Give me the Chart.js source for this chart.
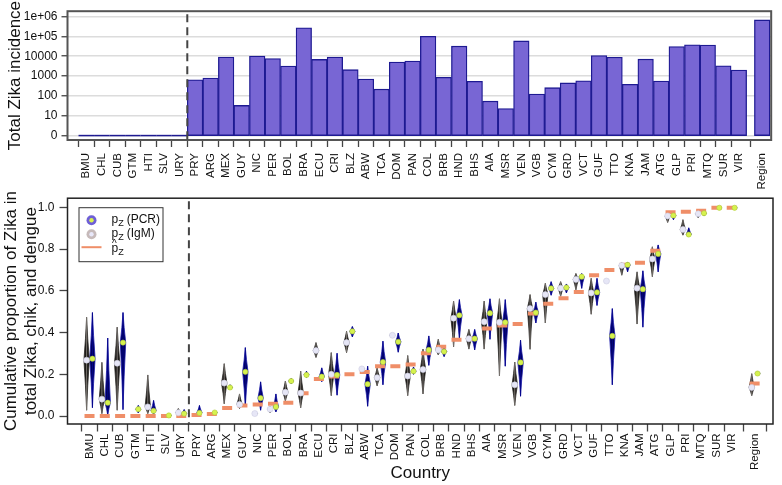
<!DOCTYPE html>
<html><head><meta charset="utf-8">
<script src="https://cdn.jsdelivr.net/npm/chart.js@4/dist/chart.umd.min.js"></script>
<style>
html,body{margin:0;padding:0;background:#fff;}
#wrap{position:relative;width:782px;height:485px;overflow:hidden;background:#fff;}
canvas{position:absolute;left:0;}
#top{top:0;}
#bot{top:186px;}
</style></head><body>
<div id="wrap"><canvas id="top" width="782" height="190"></canvas><canvas id="bot" width="782" height="299"></canvas></div>
<script>
// ---------------- DATA ----------------
const countries = ['BMU','CHL','CUB','GTM','HTI','SLV','URY','PRY','ARG','MEX','GUY','NIC','PER','BOL','BRA','ECU','CRI','BLZ','ABW','TCA','DOM','PAN','COL','BRB','HND','BHS','AIA','MSR','VEN','VGB','CYM','GRD','VCT','GUF','TTO','KNA','JAM','ATG','GLP','PRI','MTQ','SUR','VIR','Region'];
const incidence = [0,0,0,0,0,0,0,650,800,9100,33,10200,7700,3200,270000,6900,9100,2100,700,218,5100,5700,100000,870,32000,540,54,23,59000,125,260,450,580,10700,8900,385,7100,560,30500,38000,36500,3300,2000,675000];
const incidenceTicks = [1,10,100,1000,10000,100000,1000000];
const incidenceTickLabels = ['0','10','100','1000','10000','1e+05','1e+06'];
const igmMin = [0.028,0.012,0.028,null,0.012,null,0.005,null,null,0.059,0.036,0.005,0.016,0.072,0.04,0.281,0.098,0.304,0.215,0.145,0.375,0.098,0.106,0.293,0.332,0.321,0.321,0.192,0.051,0.32,0.446,0.574,0.605,0.488,0.647,0.675,0.441,0.668,0.928,0.867,0.95,null,null,0.098];
const igmMed = [0.268,0.081,0.253,null,0.044,null,0.016,null,null,0.158,0.056,0.012,0.033,0.114,0.11,0.314,0.2,0.352,0.226,0.184,0.387,0.192,0.223,0.317,0.469,0.371,0.452,0.449,0.15,0.515,0.582,0.613,0.655,0.59,0.647,0.722,0.613,0.753,0.959,0.894,0.969,null,null,0.137];
const igmMax = [0.473,0.257,0.426,null,0.197,null,0.036,null,null,0.251,0.106,0.02,0.047,0.168,0.215,0.352,0.304,0.406,0.235,0.231,0.395,0.29,0.321,0.368,0.551,0.415,0.551,0.562,0.259,0.582,0.636,0.644,0.683,0.66,0.647,0.735,0.691,0.811,0.969,0.941,0.98,null,null,0.203];
const pcrMin = [0.04,0.005,0.031,0.015,0.009,0.0,0.0,0.005,0.012,0.125,0.047,0.028,0.02,0.155,0.185,0.165,0.1,0.379,0.047,0.15,0.306,0.2,0.243,0.285,0.371,0.317,0.368,0.239,0.095,0.446,0.579,0.59,0.612,0.53,0.15,0.691,0.426,0.691,0.941,0.858,0.96,0.995,0.995,0.192];
const pcrMed = [0.275,0.064,0.352,0.033,0.025,0.003,0.012,0.015,0.017,0.137,0.212,0.086,0.044,0.168,0.197,0.189,0.197,0.406,0.153,0.259,0.356,0.215,0.317,0.309,0.483,0.371,0.493,0.449,0.257,0.496,0.612,0.616,0.668,0.593,0.384,0.725,0.608,0.777,0.961,0.87,0.972,0.998,0.998,0.204];
const pcrMax = [0.496,0.374,0.496,0.051,0.075,0.008,0.031,0.051,0.022,0.15,0.328,0.164,0.106,0.18,0.215,0.231,0.301,0.429,0.239,0.359,0.398,0.235,0.384,0.332,0.558,0.415,0.562,0.558,0.364,0.546,0.644,0.633,0.683,0.66,0.515,0.738,0.696,0.82,0.967,0.902,0.975,1.0,1.0,0.215];
const pHat = [0,0,0,0,0,0,0,0.005,0.01,0.039,0.051,0.055,0.059,0.064,0.109,0.178,0.19,0.2,0.211,0.239,0.239,0.247,0.301,0.332,0.366,0.371,0.42,0.434,0.441,0.491,0.538,0.565,0.594,0.675,0.7,0.725,0.735,0.792,0.977,0.979,0.984,0.998,0.998,0.156];
const proportionTicks = [0,0.2,0.4,0.6,0.8,1.0];

// ---------------- LAYOUT ----------------
const REGION_POS = 43.5;      // Region sits apart from the countries
const DIVIDER_POS = 6.5;      // dashed separator between URY and PRY
const ZERO_BASE = 1;          // position of the "0" on the incidence axis
const FONT = '"Liberation Sans", Arial, Helvetica, sans-serif';
Chart.defaults.font.family = FONT;
Chart.defaults.color = '#111';

const xPos = countries.map((c, i) => c === 'Region' ? REGION_POS : i);

// ---------------- PLUGINS ----------------
const framePlugin = {
  id: 'frame',
  afterDatasetsDraw(chart, args, o) {
    const {ctx, chartArea: a} = chart;
    ctx.save(); ctx.strokeStyle = o.color; ctx.lineWidth = o.width;
    ctx.strokeRect(a.left, a.top, a.right - a.left, a.bottom - a.top);
    ctx.restore();
  }
};
const dividerPlugin = {
  id: 'divider',
  afterDatasetsDraw(chart, args, o) {
    const {ctx, chartArea: a} = chart;
    const x = chart.scales.x.getPixelForValue(o.value);
    ctx.save(); ctx.strokeStyle = '#444'; ctx.lineWidth = 2; ctx.setLineDash([8, 5]);
    ctx.beginPath(); ctx.moveTo(x, a.top + 3); ctx.lineTo(x, a.bottom); ctx.stroke();
    ctx.restore();
  }
};
// zero-height bars drawn as a line, like R's barplot does
const zeroBarPlugin = {
  id: 'zeroBars',
  afterDatasetDraw(chart, args) {
    const ds = chart.data.datasets[args.index];
    if (!ds.zeroLine) return;
    const ctx = chart.ctx;
    ctx.save(); ctx.strokeStyle = ds.borderColor; ctx.lineWidth = 1.5;
    args.meta.data.forEach(el => {
      if (Math.abs(el.y - el.base) < 0.5) {
        ctx.beginPath(); ctx.moveTo(el.x - el.width / 2, el.y); ctx.lineTo(el.x + el.width / 2, el.y); ctx.stroke();
      }
    });
    ctx.restore();
  }
};
// violin shapes from floating-bar elements
const violinPlugin = {
  id: 'violins',
  beforeDatasetDraw(chart, args) {
    const ds = chart.data.datasets[args.index];
    if (!ds.violin) return;
    const ctx = chart.ctx, ys = chart.scales.y;
    ctx.save();
    args.meta.data.forEach((el, j) => {
      const d = ds.data[j];
      const top = Math.min(el.y, el.base), bot = Math.max(el.y, el.base);
      if (bot - top < 0.5) return;
      const m = ys.getPixelForValue(d.med);
      const hw = ds.vHalf, x = el.x;
      ctx.beginPath();
      ctx.moveTo(x, top);
      ctx.quadraticCurveTo(x + hw * 0.35, (top + m) / 2, x + hw, m);
      ctx.quadraticCurveTo(x + hw * 0.35, (m + bot) / 2, x, bot);
      ctx.quadraticCurveTo(x - hw * 0.35, (m + bot) / 2, x - hw, m);
      ctx.quadraticCurveTo(x - hw * 0.35, (top + m) / 2, x, top);
      ctx.closePath();
      ctx.fillStyle = ds.vFill; ctx.fill();
      ctx.strokeStyle = ds.vEdge; ctx.lineWidth = 0.8; ctx.stroke();
      ctx.beginPath(); ctx.moveTo(x, top); ctx.lineTo(x, bot);
      ctx.strokeStyle = ds.vCore; ctx.lineWidth = 1; ctx.stroke();
    });
    ctx.restore();
    return false;
  }
};
const legendPlugin = {
  id: 'customLegend',
  afterDraw(chart) {
    const {ctx, chartArea: a} = chart;
    const bx = a.left + 11, by = a.top + 9;
    ctx.save();
    ctx.fillStyle = '#fff'; ctx.fillRect(bx, by, 84, 54);
    ctx.strokeStyle = '#333'; ctx.lineWidth = 1; ctx.strokeRect(bx + 0.5, by + 0.5, 84, 54);
    // markers
    const mx = bx + 13;
    ctx.beginPath(); ctx.arc(mx, by + 13, 5, 0, Math.PI * 2); ctx.fillStyle = '#6e5fd6'; ctx.fill();
    ctx.beginPath(); ctx.arc(mx, by + 13, 2.2, 0, Math.PI * 2); ctx.fillStyle = '#d8f24e'; ctx.fill();
    ctx.beginPath(); ctx.arc(mx, by + 27, 5, 0, Math.PI * 2); ctx.fillStyle = '#c6baba'; ctx.fill();
    ctx.beginPath(); ctx.arc(mx, by + 27, 2.2, 0, Math.PI * 2); ctx.fillStyle = '#e8e8fa'; ctx.fill();
    ctx.beginPath(); ctx.moveTo(bx + 3, by + 40); ctx.lineTo(bx + 23, by + 40);
    ctx.strokeStyle = '#ef8e68'; ctx.lineWidth = 2; ctx.stroke();
    // texts
    ctx.fillStyle = '#111'; ctx.textBaseline = 'alphabetic'; ctx.textAlign = 'left';
    const tx = bx + 33;
    const row = (y, suffix, hat) => {
      ctx.font = '12px ' + FONT; ctx.fillText('p', tx, y);
      const pw = ctx.measureText('p').width;
      if (hat) { ctx.font = '10px ' + FONT; ctx.fillText('^', tx + 0.5, y - 5); }
      ctx.font = '9px ' + FONT; ctx.fillText('Z', tx + pw, y + 2.5);
      const zw = ctx.measureText('Z').width;
      if (suffix) { ctx.font = '12px ' + FONT; ctx.fillText(suffix, tx + pw + zw + 3, y); }
    };
    row(by + 16, '(PCR)', false);
    row(by + 30, '(IgM)', false);
    row(by + 45, '', true);
    ctx.restore();
  }
};

// ---------------- TOP: incidence ----------------
new Chart(document.getElementById('top'), {
  type: 'bar',
  data: {
    datasets: [{
      label: 'Total Zika incidence',
      data: xPos.map((x, i) => ({x, y: [ZERO_BASE, incidence[i] > 0 ? incidence[i] : ZERO_BASE]})),
      backgroundColor: '#7866d4', borderColor: '#1e1a92', borderWidth: 1.3, borderSkipped: false,
      barPercentage: 1, categoryPercentage: 1, zeroLine: true
    }]
  },
  options: {
    responsive: false, animation: false, devicePixelRatio: 1,
    layout: {padding: {top: 3, right: 2, left: 0, bottom: 0}},
    plugins: {legend: {display: false}, tooltip: {enabled: false},
      frame: {color: '#555', width: 2}, divider: {value: DIVIDER_POS}},
    scales: {
      x: {
        type: 'linear', min: -1.21, max: 44.08, offset: false,
        afterBuildTicks: s => { s.ticks = xPos.map(v => ({value: v})); },
        afterFit: s => { s.height = 50; },
        ticks: {autoSkip: false, minRotation: 90, maxRotation: 90, padding: 6,
          font: {size: 11.5}, callback: (v, i) => countries[i]},
        grid: {drawOnChartArea: false, drawTicks: true, tickLength: 7, tickColor: '#444', tickWidth: 1.3},
        border: {display: false}
      },
      y: {
        type: 'logarithmic', min: 0.598, max: 1.86e6,
        afterBuildTicks: s => { s.ticks = incidenceTicks.map(v => ({value: v})); },
        afterFit: s => { s.width = 67.5; },
        ticks: {font: {size: 12}, padding: 4, callback: (v, i) => incidenceTickLabels[i]},
        grid: {color: '#dcdcdc', lineWidth: 1.5, drawTicks: true, tickLength: 6, tickColor: '#444', tickWidth: 1.3},
        border: {display: false},
        title: {display: true, text: 'Total Zika incidence', font: {size: 17}, color: '#111', padding: {top: 5, bottom: 0}}
      }
    }
  },
  plugins: [zeroBarPlugin, framePlugin, dividerPlugin]
});

// ---------------- BOTTOM: proportions ----------------
const violinData = (mins, meds, maxs, shift) =>
  xPos.map((x, i) => mins[i] == null ? null : {x: x + shift, y: [mins[i], maxs[i]], med: meds[i]}).filter(Boolean);
const medianData = (meds, shift) =>
  xPos.map((x, i) => meds[i] == null ? null : {x: x + shift, y: meds[i]}).filter(Boolean);

new Chart(document.getElementById('bot'), {
  type: 'bar',
  data: {
    datasets: [
      {label: 'IgM', type: 'bar', data: violinData(igmMin, igmMed, igmMax, -0.19), grouped: false,
        violin: true, vFill: '#1d1b19', vEdge: '#2a2725', vCore: '#7a7570', vHalf: 2.7, backgroundColor: '#1d1b19', order: 3},
      {label: 'PCR', type: 'bar', data: violinData(pcrMin, pcrMed, pcrMax, 0.19), grouped: false,
        violin: true, vFill: '#00005a', vEdge: '#1c1cae', vCore: '#05058a', vHalf: 2.7, backgroundColor: '#00005a', order: 3},
      {label: 'p hat', type: 'line', data: xPos.map((x, i) => ({x, y: pHat[i]})), showLine: false,
        pointStyle: 'line', pointRadius: 5, pointBorderWidth: 4, pointBorderColor: '#ef8e68', borderColor: '#ef8e68', order: 2},
      {label: 'IgM median', type: 'line', data: medianData(igmMed, -0.19), showLine: false,
        pointStyle: 'circle', pointRadius: 3, pointBackgroundColor: '#e6e6f6', pointBorderColor: '#cdcde0', pointBorderWidth: 0.6, order: 1},
      {label: 'PCR median', type: 'line', data: medianData(pcrMed, 0.19), showLine: false,
        pointStyle: 'circle', pointRadius: 2.6, pointBackgroundColor: '#d6f24e', pointBorderColor: '#b2cc3c', pointBorderWidth: 0.6, order: 0}
    ]
  },
  options: {
    responsive: false, animation: false, devicePixelRatio: 1,
    layout: {padding: {top: 7, right: 1.3, left: 0, bottom: 0}},
    plugins: {legend: {display: false}, tooltip: {enabled: false},
      frame: {color: '#222', width: 1.5}, divider: {value: DIVIDER_POS}},
    scales: {
      x: {
        type: 'linear', min: -1.44, max: 44.7, offset: false,
        afterBuildTicks: s => { s.ticks = xPos.map(v => ({value: v})); },
        afterFit: s => { s.height = 61; },
        ticks: {autoSkip: false, minRotation: 90, maxRotation: 90, padding: 2,
          font: {size: 11.5}, callback: (v, i) => countries[i]},
        grid: {drawOnChartArea: false, drawTicks: true, tickLength: 7.5, tickColor: '#444', tickWidth: 1.3},
        border: {display: false},
        title: {display: true, text: 'Country', font: {size: 17}, color: '#111', padding: {top: 0, bottom: 1}}
      },
      y: {
        type: 'linear', min: -0.038, max: 1.044,
        afterBuildTicks: s => { s.ticks = proportionTicks.map(v => ({value: v})); },
        afterFit: s => { s.width = 67.5; },
        ticks: {font: {size: 12}, padding: 5, callback: v => v.toFixed(1)},
        grid: {drawOnChartArea: false, drawTicks: true, tickLength: 8, tickColor: '#444', tickWidth: 1.3},
        border: {display: false},
        title: {display: true, text: ['Cumulative proportion of Zika in', 'total Zika, chik, and dengue'],
          font: {size: 17, lineHeight: 1.15}, color: '#111', padding: {top: 2, bottom: 0}}
      }
    }
  },
  plugins: [violinPlugin, framePlugin, dividerPlugin, legendPlugin]
});
</script>
</body></html>
